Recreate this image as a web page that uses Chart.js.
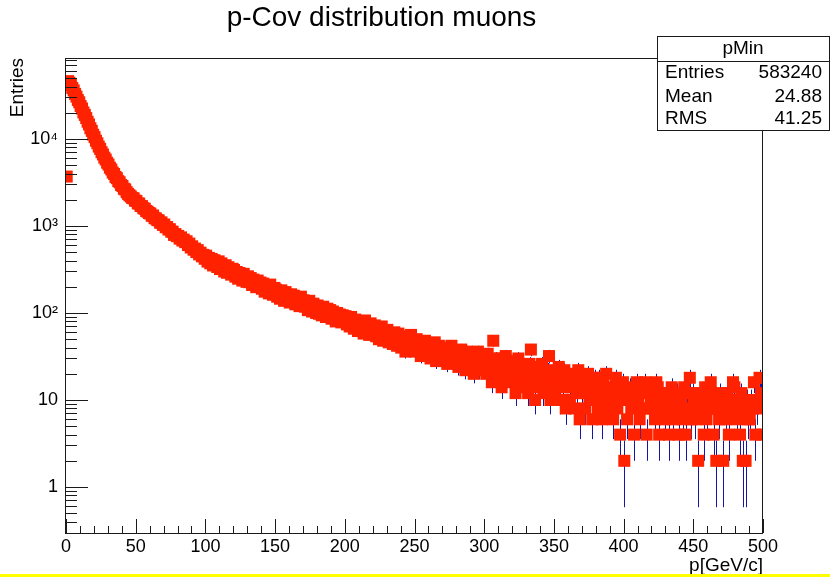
<!DOCTYPE html>
<html><head><meta charset="utf-8">
<script src="https://cdn.jsdelivr.net/npm/chart.js@4.4.0/dist/chart.umd.min.js"></script>
<style>html,body{margin:0;padding:0;background:#fff;overflow:hidden}canvas{display:block}</style>
</head><body><canvas id="c" width="830" height="577"></canvas>
<script>
const chartTitle = 'p-Cov distribution muons';
const xAxisTitle = 'p[GeV/c]';
const yAxisTitle = 'Entries';
const xRange = [0, 500];
const binWidth = 1;
const xTickValues = [0, 50, 100, 150, 200, 250, 300, 350, 400, 450, 500];
const yTickValues = [1, 10, 100, 1000, 10000];
const yTickLabels = ['1', '10', '10\u00B2', '10\u00B3', '10\u2074'];
const yRange = [0.296, 85300];
const statsName = 'pMin';
const statsLabels = ['Entries', 'Mean', 'RMS'];
const statsValues = ['583240', '24.88', '41.25'];

// bin contents, one per 1 GeV/c bin from 0 to 500
const counts = [
 3700, 46200, 44300, 41700, 38600, 36200, 33000, 30700, 28100, 26400,
 23900, 22400, 20200, 18900, 17400, 15800, 14700, 13300, 12400, 11200,
 10500, 9560, 8940, 8180, 7700, 7060, 6640, 6100, 5800, 5340,
 5080, 4680, 4460, 4120, 3960, 3660, 3540, 3280, 3180, 2960,
 2880, 2680, 2630, 2450, 2340, 2260, 2180, 2100, 2080, 1960,
 1940, 1820, 1810, 1700, 1690, 1600, 1580, 1490, 1460, 1410,
 1390, 1310, 1320, 1230, 1220, 1170, 1160, 1090, 1100, 1030,
 1040, 968, 972, 912, 918, 862, 858, 790, 808, 764,
 770, 716, 740, 680, 698, 652, 668, 604, 628, 566,
 584, 534, 550, 502, 528, 472, 494, 448, 466, 420,
 456, 390, 430, 372, 418, 352, 404, 386, 338, 392,
 320, 372, 336, 300, 354, 290, 336, 318, 276, 322,
 312, 262, 296, 248, 288, 272, 236, 282, 250, 228,
 264, 226, 252, 210, 242, 232, 198, 236, 204, 224,
 190, 218, 176, 206, 196, 168, 212, 180, 162, 194,
 186, 154, 172, 146, 182, 160, 138, 174, 150, 162,
 132, 164, 140, 158, 126, 150, 146, 120, 154, 128,
 140, 118, 132, 108, 138, 120, 104, 128, 112, 100,
 122, 98, 114, 94, 118, 104, 90, 112, 96, 108,
 86, 104, 92, 80, 100, 88, 96, 78, 94, 84,
 92, 74, 86, 70, 90, 80, 66, 84, 76, 62,
 80, 66, 74, 58, 82, 64, 72, 56, 76, 62,
 58, 72, 54, 66, 50, 64, 70, 48, 60, 56,
 64, 46, 56, 50, 44, 60, 52, 42, 58, 48,
 40, 54, 46, 36, 52, 44, 38, 56, 42, 48,
 36, 50, 40, 46, 32, 44, 38, 48, 34, 42,
 44, 30, 40, 36, 46, 28, 38, 42, 32, 36,
 30, 40, 34, 26, 38, 32, 42, 28, 36, 30,
 34, 24, 32, 38, 26, 30, 22, 36, 28, 32,
 26, 34, 20, 30, 28, 36, 22, 26, 32, 24,
 28, 20, 34, 22, 26, 16, 48, 24, 30, 18,
 22, 30, 14, 26, 20, 32, 18, 24, 16, 28,
 18, 26, 12, 22, 30, 16, 20, 14, 24, 18,
 22, 12, 26, 38, 16, 20, 10, 24, 18, 14,
 20, 26, 12, 18, 14, 22, 32, 10, 18, 16,
 12, 20, 16, 24, 10, 18, 14, 22, 8, 16,
 18, 10, 14, 20, 8, 16, 12, 22, 6, 14,
 12, 18, 8, 14, 20, 10, 16, 6, 12, 18,
 14, 8, 18, 10, 6, 16, 12, 20, 8, 12,
 10, 14, 6, 12, 18, 8, 14, 4, 10, 16,
 2, 12, 6, 10, 14, 8, 12, 4, 10, 16,
 10, 6, 12, 8, 14, 16, 4, 12, 8, 10,
 12, 8, 6, 16, 14, 4, 10, 12, 8, 6,
 10, 12, 4, 8, 14, 6, 10, 8, 12, 4,
 8, 10, 6, 14, 4, 12, 8, 18, 6, 12,
 10, 6, 8, 2, 12, 8, 10, 4, 14, 6,
 8, 12, 16, 10, 4, 8, 2, 10, 6, 12,
 10, 2, 8, 6, 12, 4, 10, 8, 16, 14,
 8, 6, 10, 4, 12, 2, 8, 2, 10, 6,
 6, 10, 8, 16, 4, 8, 10, 18, 12, 4
];

const FONT = "'Liberation Sans', Arial, Helvetica, sans-serif";
const points = counts.map((n, i) => ({ x: xRange[0] + (i + 0.5) * binWidth, y: n > 0 ? n : null }));

const errorBars = {
  id: 'errorBars',
  beforeDatasetsDraw(chart) {
    const { ctx, chartArea: a, scales: { x, y } } = chart;
    ctx.save();
    ctx.beginPath(); ctx.rect(a.left, a.top, a.right - a.left, a.bottom - a.top); ctx.clip();
    ctx.strokeStyle = 'rgb(22,22,165)'; ctx.lineWidth = 1;
    ctx.beginPath();
    counts.forEach((n, i) => {
      if (n <= 0) return;
      const e = Math.sqrt(n);
      const px = Math.round(x.getPixelForValue(points[i].x)) + 0.5;
      const lo = n - e > 0 ? y.getPixelForValue(n - e) : a.bottom;
      const hi = y.getPixelForValue(n + e);
      ctx.moveTo(px, lo); ctx.lineTo(px, hi);
    });
    ctx.stroke();
    ctx.restore();
  }
};

const frameTicks = {
  id: 'frameTicks',
  afterDatasetsDraw(chart) {
    const { ctx, chartArea: a, scales: { x, y } } = chart;
    ctx.save();
    ctx.strokeStyle = '#1a1a1a'; ctx.lineWidth = 1;
    ctx.beginPath();
    for (let v = xRange[0]; v <= xRange[1]; v += 10) {
      const px = Math.round(x.getPixelForValue(v)) + 0.5;
      const len = v % 50 === 0 ? 14 : 7;
      ctx.moveTo(px, a.bottom); ctx.lineTo(px, a.bottom - len);
    }
    for (let d = -1; d <= 4; d++) {
      for (let k = 1; k <= 9; k++) {
        const v = k * Math.pow(10, d);
        if (v <= yRange[0] * 1.02 || v >= yRange[1]) continue;
        const py = Math.round(y.getPixelForValue(v)) + 0.5;
        const len = k === 1 ? 22 : 11;
        ctx.moveTo(a.left, py); ctx.lineTo(a.left + len, py);
      }
    }
    ctx.stroke();
    ctx.strokeRect(Math.round(a.left) - 0.5, Math.round(a.top) + 0.5, Math.round(a.right - a.left), Math.round(a.bottom - a.top));
    ctx.restore();
  },
  afterDraw(chart) {
    const { ctx } = chart;
    ctx.save();
    const L = 657.5, T = 36.5, R = 829.5, B = 130.5, D = 61.5;
    ctx.fillStyle = '#fff'; ctx.fillRect(L, T, R - L, B - T);
    ctx.strokeStyle = '#1a1a1a'; ctx.lineWidth = 1;
    ctx.strokeRect(L, T, R - L, B - T);
    ctx.beginPath(); ctx.moveTo(L, D); ctx.lineTo(R, D); ctx.stroke();
    ctx.fillStyle = '#000';
    ctx.font = '19px ' + FONT;
    ctx.textBaseline = 'middle';
    ctx.textAlign = 'center';
    ctx.fillText(statsName, (L + R) / 2 - 0.5, 49);
    const rows = [73, 97, 119];
    statsLabels.forEach((s, i) => {
      ctx.textAlign = 'left'; ctx.fillText(s, 665, rows[i]);
      ctx.textAlign = 'right'; ctx.fillText(statsValues[i], 822, rows[i]);
    });
    ctx.fillStyle = '#ffff00';
    ctx.fillRect(0, 574, 830, 3);
    ctx.restore();
  }
};

new Chart(document.getElementById('c'), {
  type: 'scatter',
  data: {
    datasets: [{
      data: points,
      pointStyle: 'rect',
      pointRadius: 8.5,
      pointHoverRadius: 8.5,
      pointBorderWidth: 0,
      backgroundColor: '#ff2200',
      borderColor: '#ff2200',
      showLine: false
    }]
  },
  options: {
    responsive: false,
    devicePixelRatio: 1,
    animation: false,
    events: [],
    layout: { padding: { left: 0, right: 67, top: 0, bottom: 0 } },
    plugins: {
      legend: { display: false },
      tooltip: { enabled: false },
      title: {
        display: true, text: chartTitle, color: '#000',
        font: { family: FONT, size: 28, weight: 'normal' },
        padding: { top: 1, bottom: 23.4 }
      }
    },
    scales: {
      x: {
        type: 'linear', min: xRange[0], max: xRange[1],
        afterBuildTicks: s => { s.ticks = xTickValues.map(v => ({ value: v })); },
        afterFit: s => { s.height = 44; },
        ticks: { color: '#000', font: { family: FONT, size: 18 }, padding: 3, maxRotation: 0 },
        grid: { display: false, drawTicks: false },
        border: { display: false },
        title: { display: true, text: xAxisTitle, align: 'end', color: '#000', font: { family: FONT, size: 19 }, padding: { top: 0, bottom: 0 } }
      },
      y: {
        type: 'logarithmic', min: yRange[0], max: yRange[1],
        afterBuildTicks: s => { s.ticks = yTickValues.map(v => ({ value: v })); },
        afterFit: s => { s.width = 66; },
        ticks: { color: '#000', font: { family: FONT, size: 18 }, padding: 8,
          callback: v => { const i = yTickValues.indexOf(v); return i >= 0 ? yTickLabels[i] : ''; } },
        grid: { display: false, drawTicks: false },
        border: { display: false },
        title: { display: true, text: yAxisTitle, align: 'end', color: '#000', font: { family: FONT, size: 19 }, padding: { top: 6, bottom: 0 } }
      }
    }
  },
  plugins: [errorBars, frameTicks]
});
</script>
</body></html>
